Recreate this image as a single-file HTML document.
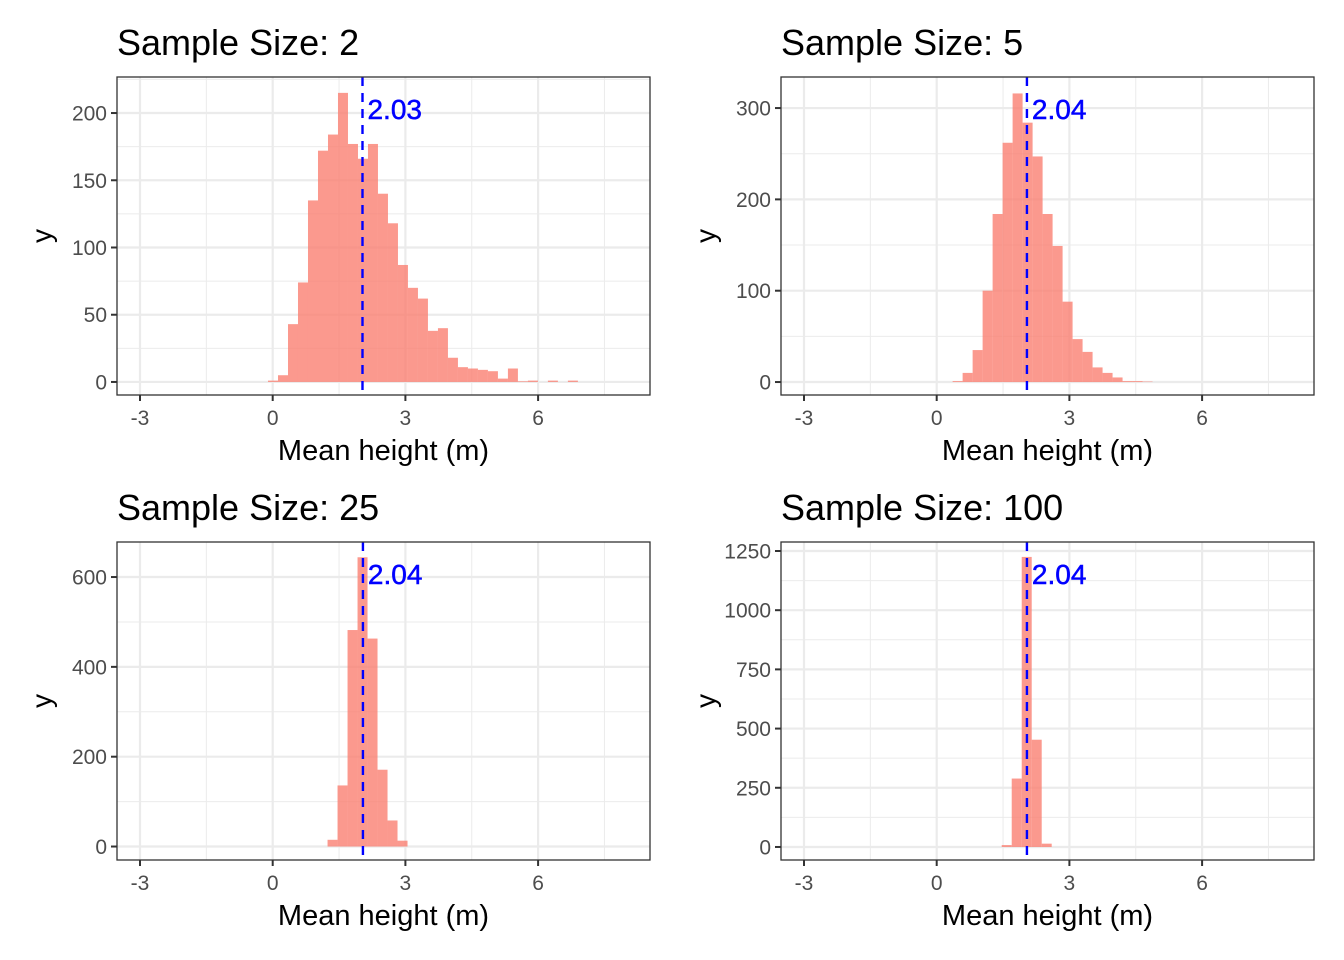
<!DOCTYPE html>
<html><head><meta charset="utf-8"><style>
html,body{margin:0;padding:0;background:#fff;}
svg{display:block;font-family:"Liberation Sans",Arial,sans-serif;}
</style></head><body>
<svg id="chart" width="1344" height="960" xmlns="http://www.w3.org/2000/svg"></svg>
<script>
const titles = ["Sample Size: 2","Sample Size: 5","Sample Size: 25","Sample Size: 100"];
const means = [2.03, 2.04, 2.04, 2.04];
const binWidth = 0.226;
const binStarts = [-0.106, 0.36, 1.24, 1.47];
const counts1 = [1,5,43,74,135,172,184,215,177,166,177,140,118,87,70,62,38,40,18,11,10,9,8,2.5,10,0.5,1,0,1,0,1];
const counts2 = [1,10,35,100,184,262,316,284,247,184,149,88,47,33,16,10,5,1,1,0.5];
const counts3 = [15,136,482,644,463,171,58,13];
const counts4 = [8,289,1225,453,14];
const yTicks1 = [0,50,100,150,200];
const yTicks2 = [0,100,200,300];
const yTicks3 = [0,200,400,600];
const yTicks4 = [0,250,500,750,1000,1250];
const xTicks = [-3,0,3,6];
const xMinor = [-1.5,1.5,4.5,7.5];
const yDomains = [[-9.7,226.8],[-14.2,334],[-30,678],[-55,1288]];
const xDomain = [-3.52, 8.53];

const allCounts=[counts1,counts2,counts3,counts4];
const allTicks=[yTicks1,yTicks2,yTicks3,yTicks4];
const boxes=[[117,77],[781,77],[117,542],[781,542]];
const W=533,H=318;
const svg=document.getElementById('chart');
const NS="http://www.w3.org/2000/svg";
function mk(t,a,p){const e=document.createElementNS(NS,t);for(const k in a)e.setAttribute(k,a[k]);(p||svg).appendChild(e);return e;}

for(let i=0;i<4;i++){
  const [L,T]=boxes[i];
  const yd=yDomains[i];
  const sx=v=>L+(v-xDomain[0])/(xDomain[1]-xDomain[0])*W;
  const sy=v=>T+H-(v-yd[0])/(yd[1]-yd[0])*H;
  const g=mk('g',{});
  
  
  const t=mk('text',{x:L,y:T-22,'font-size':36,fill:'#000'},g);
  t.textContent=titles[i];
  
  
  const ticks=allTicks[i];
  const step=ticks[1]-ticks[0];
  for(let k=0;k<ticks.length;k++){
    const mv=ticks[k]+step/2;
    if(mv<yd[1]) mk('line',{x1:L,x2:L+W,y1:sy(mv),y2:sy(mv),stroke:'#ebebeb','stroke-width':1},g);
  }
  xMinor.forEach(v=>mk('line',{x1:sx(v),x2:sx(v),y1:T,y2:T+H,stroke:'#ebebeb','stroke-width':1},g));
  ticks.forEach(v=>{
    mk('line',{x1:L,x2:L+W,y1:sy(v),y2:sy(v),stroke:'#ebebeb','stroke-width':2.2},g);
    mk('line',{x1:L-6,x2:L,y1:sy(v),y2:sy(v),stroke:'#333','stroke-width':2},g);
    const tl=mk('text',{x:L-10,y:sy(v)+7.5,'font-size':21,fill:'#4d4d4d','text-anchor':'end'},g);
    tl.textContent=v;
    
    
  });
  xTicks.forEach(v=>{
    mk('line',{x1:sx(v),x2:sx(v),y1:T,y2:T+H,stroke:'#ebebeb','stroke-width':2.2},g);
    mk('line',{x1:sx(v),x2:sx(v),y1:T+H,y2:T+H+6,stroke:'#333','stroke-width':2},g);
    const tl=mk('text',{x:sx(v),y:T+H+30,'font-size':21,fill:'#4d4d4d','text-anchor':'middle'},g);
    tl.textContent=v;
    
    
  });
  allCounts[i].forEach((c,k)=>{
    const x0=binStarts[i]+k*binWidth;
    if(c<=0) return;
    const r=mk('rect',{x:sx(x0),y:sy(c),width:sx(x0+binWidth)-sx(x0),height:sy(0)-sy(c),fill:'#FA8072','fill-opacity':0.8},g);
    
    
  });
  const mx=sx(means[i]);
  const ml=mk('line',{x1:mx,x2:mx,y1:T,y2:T+H,stroke:'#0000ff','stroke-width':2.4,'stroke-dasharray':'9,7'},g);
  
  
  const lbl=mk('text',{x:mx+5,y:T+42,'font-size':28,fill:'#0000ff',stroke:'#0000ff','stroke-width':0.5},g);
  lbl.textContent=means[i].toFixed(2);
  
  
  mk('rect',{x:L,y:T,width:W,height:H,fill:'none',stroke:'#333','stroke-width':1.3},g);
  const xt=mk('text',{x:L+W/2,y:T+H+65,'font-size':29,fill:'#000','text-anchor':'middle'},g);
  xt.textContent='Mean height (m)';
  
  
  const yt=mk('text',{x:0,y:0,'font-size':28,fill:'#000','text-anchor':'middle',transform:`translate(${L-66},${T+H/2}) rotate(-90)`},g);
  yt.textContent='y';
  
  
}
</script>
</body></html>
